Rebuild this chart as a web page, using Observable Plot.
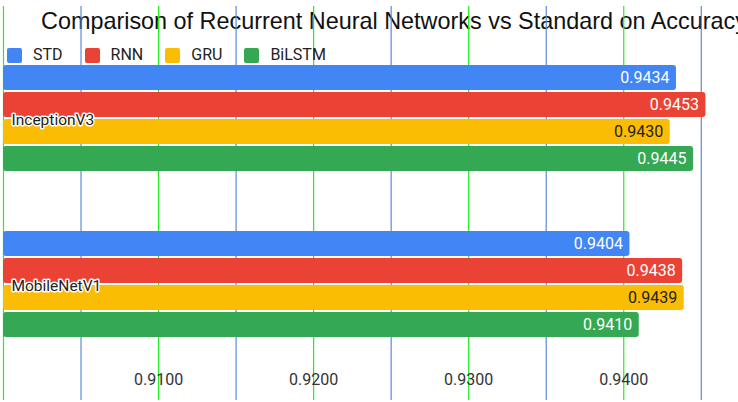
<!DOCTYPE html>
<html>
<head>
<meta charset="utf-8">
<script src="https://cdn.jsdelivr.net/npm/d3@7"></script>
<script src="https://cdn.jsdelivr.net/npm/@observablehq/plot@0.6"></script>
<style>
  html, body { margin: 0; padding: 0; background: #fff; }
  #wrap { position: relative; width: 738px; height: 402px; overflow: hidden; font-family: Roboto, "Noto Sans", sans-serif; background: #fff; }
  #wrap svg { position: absolute; left: 0; top: 0; }
  #title { position: absolute; left: 41px; top: 9.8px; font-family: "Liberation Sans", Arial, sans-serif; font-size: 23.4px; line-height: 1; white-space: nowrap; color: #111; }
  #legend { position: absolute; left: 7px; top: 47px; display: flex; align-items: center; font-size: 16px; line-height: 1; color: #222; }
  .item { display: flex; align-items: center; margin-right: 22px; }
  .sw { width: 15px; height: 15px; border-radius: 2px; margin-right: 11px; }
</style>
</head>
<body>
<div id="wrap"></div>
<script>
const title = "Comparison of Recurrent Neural Networks vs Standard on Accuracy";
const models = ["InceptionV3", "MobileNetV1"];
const series = ["STD", "RNN", "GRU", "BiLSTM"];
const colors = ["#4285F4", "#EA4335", "#FBBC04", "#34A853"];
const inceptionV3 = [0.9434, 0.9453, 0.9430, 0.9445];
const mobileNetV1 = [0.9404, 0.9438, 0.9439, 0.9410];
const tickValues = [0.91, 0.92, 0.93, 0.94];
const majorGrid = [0.900, 0.910, 0.920, 0.930, 0.940];
const minorGrid = [0.905, 0.915, 0.925, 0.935, 0.945];
const xDomain = [0.9, 0.9474];

const valuesByModel = [inceptionV3, mobileNetV1];
const data = models.flatMap((m, i) => series.map((s, j) => ({model: m, series: s, value: valuesByModel[i][j]})));

// Background layer: gridlines spanning the whole chart area (drawn over the title)
const grid = Plot.plot({
  width: 738,
  height: 402,
  marginTop: 6,
  marginBottom: 2,
  marginLeft: 3,
  marginRight: 0,
  style: {background: "transparent"},
  x: {domain: xDomain, axis: null},
  marks: [
    Plot.ruleX(minorGrid, {x: d => d, stroke: "#5b8ad9", strokeWidth: 1.2}),
    Plot.ruleX(majorGrid, {x: d => d, stroke: "#22ee22", strokeWidth: 1.2})
  ]
});

// Foreground layer: grouped bars faceted by model
const chart = Plot.plot({
  width: 738,
  height: 402,
  marginTop: 64,
  marginBottom: 64,
  marginLeft: 3,
  marginRight: 0,
  style: {fontFamily: "Roboto, sans-serif", background: "transparent", overflow: "visible"},
  x: {domain: xDomain, axis: null, label: null},
  y: {domain: series, axis: null, paddingInner: 0.06, paddingOuter: 0},
  fy: {domain: models, axis: null, paddingInner: 0.356, paddingOuter: 0},
  color: {domain: series, range: colors},
  marks: [
    Plot.barX(data, {fy: "model", y: "series", x1: d => xDomain[0], x2: "value", fill: "series", rx: 3}),
    Plot.text(data, {fy: "model", y: "series", x: "value", text: d => d.value.toFixed(4), textAnchor: "end", dx: -7, fontSize: 16, fill: d => d.series === "GRU" ? "#222" : "#fff"}),
    Plot.text(models, {fy: d => d, text: d => d, frameAnchor: "left", dx: 8, dy: 1, fontSize: 15.5, fill: "#222", stroke: "#fff", strokeWidth: 3}),
    Plot.axisX(tickValues, {tickSize: 0, tickPadding: 35, tickFormat: d => d.toFixed(4), fontSize: 16, fill: "#333", label: null})
  ]
});

const wrap = document.getElementById("wrap");

const t = document.createElement("div");
t.id = "title";
t.textContent = title;
wrap.appendChild(t);

wrap.appendChild(grid);
wrap.appendChild(chart);

const legend = document.createElement("div");
legend.id = "legend";
series.forEach((s, i) => {
  const item = document.createElement("div");
  item.className = "item";
  const sw = document.createElement("div");
  sw.className = "sw";
  sw.style.background = colors[i];
  const lab = document.createElement("span");
  lab.textContent = s;
  item.appendChild(sw);
  item.appendChild(lab);
  legend.appendChild(item);
});
wrap.appendChild(legend);
</script>
</body>
</html>
